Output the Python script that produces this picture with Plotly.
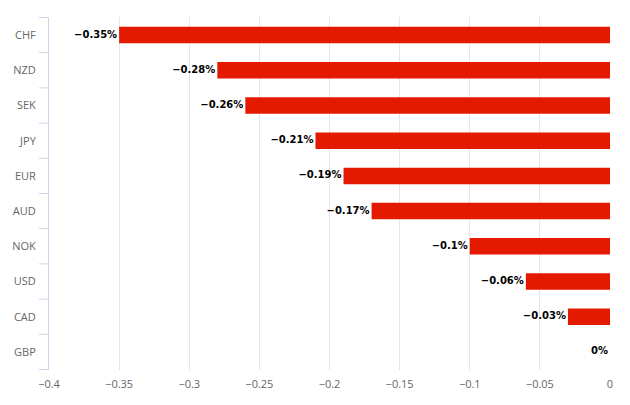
import plotly.graph_objects as go

currencies = ["CHF", "NZD", "SEK", "JPY", "EUR", "AUD", "NOK", "USD", "CAD", "GBP"]
values = [-0.35, -0.28, -0.26, -0.21, -0.19, -0.17, -0.1, -0.06, -0.03, 0]
x_ticks = [-0.4, -0.35, -0.3, -0.25, -0.2, -0.15, -0.1, -0.05, 0]


def fmt(v):
    s = ("%g" % abs(v))
    return ("\u2212" + s) if v < 0 else s


labels = [fmt(v) + "%\u2009" for v in values]

fig = go.Figure()
fig.add_trace(go.Bar(
    x=values, y=currencies, orientation="h",
    marker=dict(color="#e41a00", line=dict(width=0)),
    hoverinfo="skip",
))
fig.add_trace(go.Scatter(
    x=values, y=currencies, mode="text", text=labels,
    textposition="middle left",
    textfont=dict(family="DejaVu Sans", size=10, color="#000000", weight="bold"),
    cliponaxis=False, hoverinfo="skip",
))

# category boundary ticks on the y axis
for i in range(len(currencies) + 1):
    fig.add_shape(type="line", xref="paper", yref="y",
                  x0=-0.018, x1=0, y0=i - 0.5, y1=i - 0.5,
                  line=dict(color="#ccd6eb", width=1))

# page body adds an 8px offset, so margins compensate for it
fig.update_layout(
    width=630, height=405,
    margin=dict(l=41, r=28, t=9, b=43, autoexpand=False),
    plot_bgcolor="white", paper_bgcolor="white",
    showlegend=False,
    bargap=0.53,
    font=dict(family="Open Sans", size=11, color="#666666"),
    xaxis=dict(
        range=[-0.4, 0], tickvals=x_ticks, ticktext=[fmt(v) for v in x_ticks],
        showgrid=True, gridcolor="#e6e6e6", gridwidth=1,
        zeroline=False, showline=False, ticks="", automargin=False,
        ticklabelstandoff=6,
        tickfont=dict(size=11, color="#666666"),
    ),
    yaxis=dict(
        autorange="reversed", showgrid=False, zeroline=False,
        showline=True, linecolor="#ccd6eb", linewidth=1,
        ticks="", ticklabelstandoff=10, automargin=False,
        tickfont=dict(size=11, color="#666666"),
    ),
)

fig.write_html("out.html")
